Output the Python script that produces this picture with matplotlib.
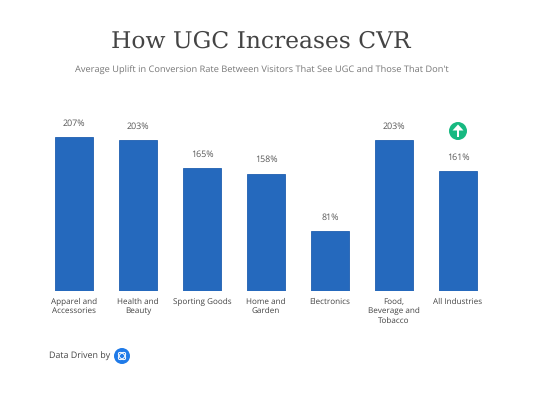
import matplotlib
matplotlib.use('Agg')
import matplotlib.pyplot as plt
from matplotlib.patches import Circle, Ellipse, Polygon, Rectangle

# Data
categories = ['Apparel and\nAccessories', 'Health and\nBeauty', 'Sporting Goods', 'Home and\nGarden',
              'Electronics', 'Food,\nBeverage and\nTobacco', 'All Industries']
uplift = [207, 203, 165, 158, 81, 203, 161]

W, H = 557, 400
BAR_COLOR = '#2569bd'
TEXT_COLOR = '#555555'

plt.rcParams['font.family'] = 'Open Sans'
plt.rcParams['text.hinting'] = 'no_hinting'

fig = plt.figure(figsize=(W / 100, H / 100), dpi=100, facecolor='white')

# Bars
ax = fig.add_axes([42 / W, 1 - 291 / H, 448 / W, 191 / H])
x = list(range(len(categories)))
bars = ax.bar(x, uplift, width=0.59, color=BAR_COLOR, edgecolor='#1f5fb0', linewidth=0.6)
ax.set_xlim(-0.5, 6.5)
ax.set_ylim(0, 257)
for spine in ax.spines.values():
    spine.set_visible(False)
ax.set_yticks([])
ax.set_xticks(x)
ax.set_xticklabels(categories, fontsize=5.9, color='#444444', linespacing=1.22)
ax.tick_params(axis='x', length=0, pad=5)
for bar, val in zip(bars, uplift):
    ax.annotate('{}%'.format(val), (bar.get_x() + bar.get_width() / 2, val), xytext=(0, 6.5),
                textcoords='offset points', ha='center', va='bottom', fontsize=6.4, color=TEXT_COLOR)

# Title and subtitle
fig.text(261 / W, 1 - 41 / H, 'How UGC Increases CVR', ha='center', va='center', fontsize=16.8,
         family='DejaVu Serif', color='#444444')
fig.text(261.5 / W, 1 - 70 / H, "Average Uplift in Conversion Rate Between Visitors That See UGC and Those That Don't",
         ha='center', va='center', fontsize=6.7, color='#777777')
fig.text(49 / W, 1 - 356 / H, 'Data Driven by', ha='left', va='center', fontsize=6.4, color='#444444')

# Overlay in pixels for the icons
overlay = fig.add_axes([0, 0, 1, 1], facecolor='none')
overlay.set_xlim(0, W)
overlay.set_ylim(H, 0)
overlay.axis('off')

# Green arrow badge
overlay.add_patch(Circle((458, 131), 9, color='#17b981', lw=0))
overlay.add_patch(Polygon([(458, 124.5), (463.5, 130.5), (452.5, 130.5)], color='white', lw=0))
overlay.add_patch(Rectangle((457, 129), 2, 8, color='white', lw=0))

# Logo
overlay.add_patch(Circle((122, 356), 8, color='#1f7ae8', lw=0))
overlay.add_patch(Ellipse((122, 356), 9, 5, angle=45, fill=False, ec='white', lw=0.7))
overlay.add_patch(Ellipse((122, 356), 9, 5, angle=-45, fill=False, ec='white', lw=0.7))

fig.savefig('out.png', dpi=100)
